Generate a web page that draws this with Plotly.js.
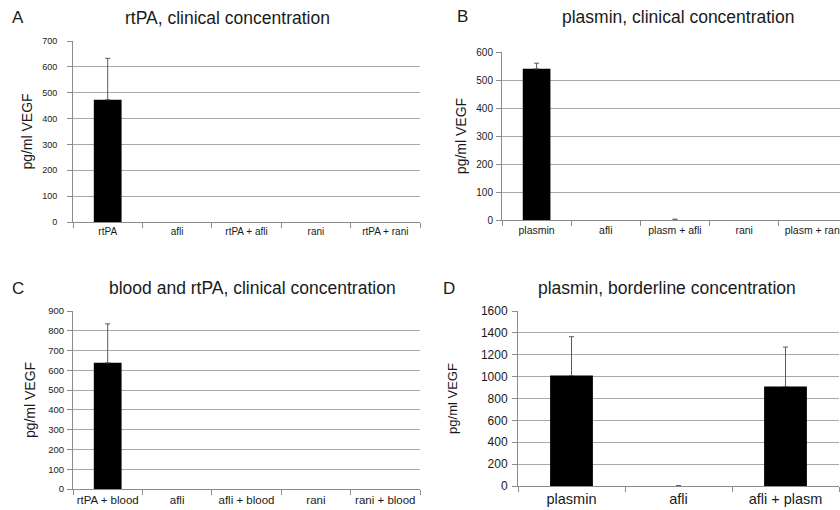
<!DOCTYPE html>
<html>
<head>
<meta charset="utf-8">
<script src="https://cdn.plot.ly/plotly-3.0.1.min.js"></script>
<style>html,body{margin:0;padding:0;background:#fff;}#chart{width:840px;height:510px;}</style>
</head>
<body>
<div id="chart"></div>
<script>
// ---- data ----
const catsA = ['rtPA', 'afli', 'rtPA + afli', 'rani', 'rtPA + rani'];
const valsA = [473, 0, 0, 0, 0];
const errA  = [160, null, null, null, null];

const catsB = ['plasmin', 'afli', 'plasm + afli', 'rani', 'plasm + rani'];
const valsB = [540, 0, 0, 0, 0];
const errB  = [20, null, 3, null, null];

const catsC = ['rtPA + blood', 'afli', 'afli + blood', 'rani', 'rani + blood'];
const valsC = [638, 0, 0, 0, 0];
const errC  = [197, null, null, null, null];

const catsD = ['plasmin', 'afli', 'afli + plasm'];
const valsD = [1010, 0, 910];
const errD  = [355, 4, 360];

const panelTitles = ['rtPA, clinical concentration', 'plasmin, clinical concentration',
                     'blood and rtPA, clinical concentration', 'plasmin, borderline concentration'];
const panelLetters = ['A', 'B', 'C', 'D'];
const yTitle = 'pg/ml VEGF';

// ---- helpers ----
const W = 840, H = 510;
const px = x => x / W;
const py = y => 1 - y / H;

function barTrace(cats, vals, errs, xa, ya) {
  return {
    type: 'bar', x: cats, y: vals, xaxis: xa, yaxis: ya,
    marker: {color: '#000000', line: {width: 0}},
    hoverinfo: 'x+y',
    error_y: {
      type: 'data', symmetric: false,
      array: errs.map(e => e == null ? NaN : e),
      arrayminus: errs.map(e => e == null ? NaN : 0),
      color: '#5a5a5a', thickness: 1, width: 2.5
    }
  };
}

const data = [
  barTrace(catsA, valsA, errA, 'x', 'y'),
  barTrace(catsB, valsB, errB, 'x2', 'y2'),
  barTrace(catsC, valsC, errC, 'x3', 'y3'),
  barTrace(catsD, valsD, errD, 'x4', 'y4')
];

function xAxis(domain, anchor, range, fs) {
  return {
    domain: domain, anchor: anchor, type: 'category', range: range,
    showgrid: false, showline: true, linecolor: '#8c8c8c', linewidth: 1,
    ticks: 'outside', tickson: 'boundaries', ticklen: 5, tickcolor: '#8c8c8c',
    tickangle: 0, automargin: false,
    tickfont: {size: fs, color: '#1a1a1a'}, fixedrange: true
  };
}
function yAxis(domain, anchor, range, dtick, fs, tfs, standoff, labStandoff) {
  return {
    domain: domain, anchor: anchor, range: range, dtick: dtick,
    showgrid: true, gridcolor: '#a8a8a8', gridwidth: 1, zeroline: false,
    showline: true, linecolor: '#8c8c8c', linewidth: 1,
    ticks: 'outside', ticklen: 5, tickcolor: '#8c8c8c',
    ticklabelstandoff: labStandoff,
    tickfont: {size: fs, color: '#1a1a1a'}, fixedrange: true,
    title: {text: yTitle, font: {size: tfs, color: '#1a1a1a'}, standoff: standoff}
  };
}

const layout = {
  width: W, height: H,
  margin: {l: 0, r: 0, t: 0, b: 0},
  paper_bgcolor: '#ffffff', plot_bgcolor: '#ffffff',
  showlegend: false, bargap: 0.6,
  font: {family: '"Liberation Sans", Arial, sans-serif', color: '#1a1a1a'},
  xaxis:  xAxis([px(73), px(420)], 'y',  [-0.5, 4.5], 10),
  yaxis:  yAxis([py(222), py(41)], 'x',  [0, 700], 100, 9, 14, 6, 8),
  xaxis2: xAxis([px(502), 1], 'y2', [-0.5, 4.385], 10.5),
  yaxis2: yAxis([py(220), py(52)], 'x2', [0, 600], 100, 10, 14, 6, 1),
  xaxis3: xAxis([px(73), px(420)], 'y3', [-0.5, 4.5], 11.5),
  yaxis3: yAxis([py(489), py(311)], 'x3', [0, 900], 100, 9.5, 14, 9, 1),
  xaxis4: xAxis([px(518), px(839)], 'y4', [-0.5, 2.5], 14.5),
  yaxis4: yAxis([py(486), py(311)], 'x4', [0, 1600], 200, 12, 13, 20, 2),
  annotations: []
};

const titlePos = [[228, 18], [678, 17], [252, 288], [667, 288]];
const letterPos = [[18, 18], [462, 17], [18, 288], [449, 288]];
for (let i = 0; i < 4; i++) {
  layout.annotations.push({
    xref: 'paper', yref: 'paper', x: px(titlePos[i][0]), y: py(titlePos[i][1]),
    xanchor: 'center', yanchor: 'middle', showarrow: false,
    text: panelTitles[i], font: {size: 17.5, color: '#1a1a1a'}
  });
  layout.annotations.push({
    xref: 'paper', yref: 'paper', x: px(letterPos[i][0]), y: py(letterPos[i][1]),
    xanchor: 'center', yanchor: 'middle', showarrow: false,
    text: panelLetters[i], font: {size: 17, color: '#1a1a1a'}
  });
}

Plotly.newPlot('chart', data, layout, {displayModeBar: false, staticPlot: true});
</script>
</body>
</html>
